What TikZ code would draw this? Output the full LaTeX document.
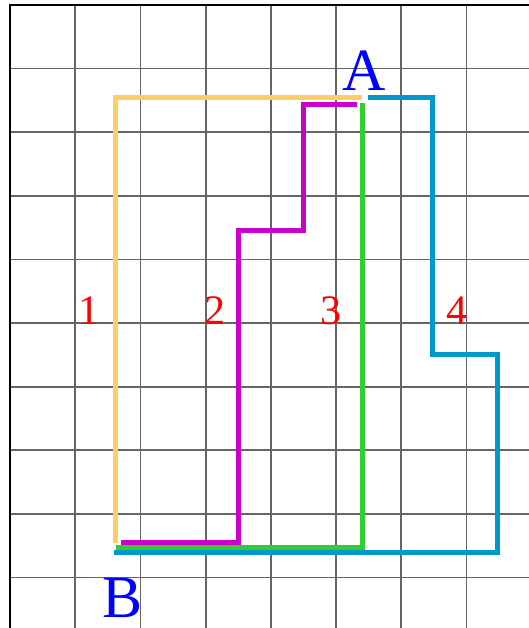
\documentclass[tikz,border=0pt]{standalone}
\usepackage{fontspec}
\setmainfont{Liberation Serif}
\definecolor{gridgray}{HTML}{666666}
\definecolor{pathorange}{HTML}{FFCC66}
\definecolor{pathmagenta}{HTML}{CC00CC}
\definecolor{pathgreen}{HTML}{33CC33}
\definecolor{pathblue}{HTML}{0099CC}
\tikzset{
  gridline/.style={draw=gridgray, line width=1.8pt},
  borderline/.style={draw=black, line width=2pt},
  route/.style={line width=5pt, line join=miter},
  numlabel/.style={text=red, font=\fontsize{42}{42}\selectfont, inner sep=0pt, text depth=0pt, anchor=base},
  ptlabel/.style={text=blue, font=\fontsize{60}{60}\selectfont, inner sep=0pt, text depth=0pt, anchor=base}
}
\begin{document}
\begin{tikzpicture}[x=1pt,y=-1pt]
\useasboundingbox (0,0) rectangle (529,628);
\fill[white] (0,0) rectangle (529,628);
% grid
\foreach \i in {1,...,7} {
  \draw[gridline] ({10+65.2*\i},5) -- ({10+65.2*\i},628);
}
\foreach \j in {1,...,9} {
  \draw[gridline] (10,{5+63.6*\j}) -- (529,{5+63.6*\j});
}
\draw[borderline] (10,628) -- (10,5) -- (529,5);
% route 1 (orange)
\coordinate (o1) at (362,97.7);
\coordinate (o2) at (115,97.7);
\coordinate (o3) at (115,543);
\draw[route, pathorange] (o1) -- (o2) -- (o3);
% route 2 (magenta)
\coordinate (m1) at (357,104.3);
\coordinate (m2) at (303.5,104.3);
\coordinate (m3) at (303.5,230);
\coordinate (m4) at (238.5,230);
\coordinate (m5) at (238.5,542);
\coordinate (m6) at (120.5,542);
\draw[route, pathmagenta] (m1) -- (m2) -- (m3) -- (m4) -- (m5) -- (m6);
% route 3 (green)
\coordinate (g1) at (362,103);
\coordinate (g2) at (362,547.5);
\coordinate (g3) at (115.5,547.5);
\draw[route, pathgreen] (g1) -- (g2) -- (g3);
% route 4 (blue)
\coordinate (b1) at (368.3,97.7);
\coordinate (b2) at (432.7,97.7);
\coordinate (b3) at (432.7,354.3);
\coordinate (b4) at (497.3,354.3);
\coordinate (b5) at (497.3,552.8);
\coordinate (b6) at (114,552.8);
\draw[route, pathblue] (b1) -- (b2) -- (b3) -- (b4) -- (b5) -- (b6);
% labels
\node[numlabel] (n1) at (89,324) {1};
\node[numlabel] (n2) at (214.5,324) {2};
\node[numlabel] (n3) at (330.5,324) {3};
\node[numlabel] (n4) at (456.5,324) {4};
\node[ptlabel] (A) at (364,90.5) {A};
\node[ptlabel] (B) at (122.5,617.5) {B};
\end{tikzpicture}
\end{document}
